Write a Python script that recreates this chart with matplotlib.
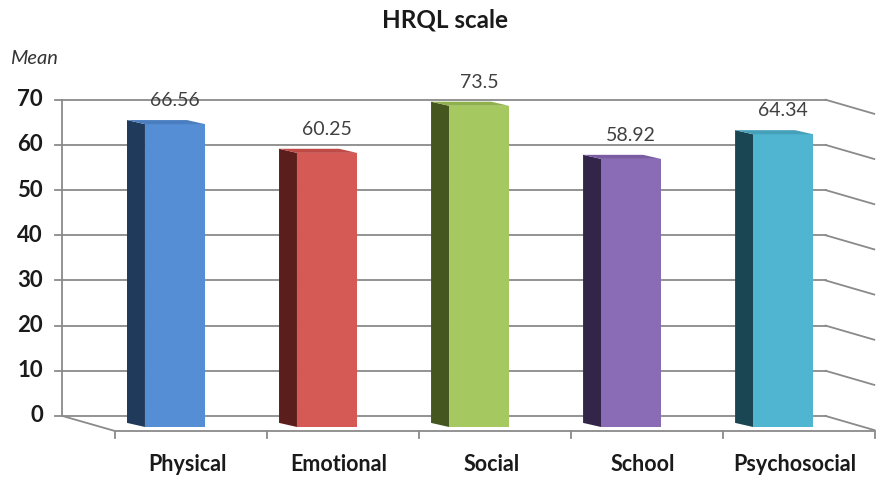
import matplotlib
matplotlib.use("Agg")
import matplotlib.pyplot as plt
from matplotlib.patches import Polygon

plt.rcParams['font.family'] = ['Lato', 'DejaVu Sans']

# data
categories = ["Physical", "Emotional", "Social", "School", "Psychosocial"]
heights = [66.56, 60.25, 70.6, 58.92, 64.34]      # drawn bar heights
value_labels = ["66.56", "60.25", "73.5", "58.92", "64.34"]
yticks = [0, 10, 20, 30, 40, 50, 60, 70]

front_colors = ['#558ED5', '#D55A55', '#A5C860', '#8A6BB5', '#4FB5D0']
side_colors = ['#1F3A5A', '#5C1E1C', '#45561E', '#33244A', '#1A4552']
top_colors = ['#4A7EC0', '#C04A46', '#8FB04C', '#7A5CA3', '#45A0BA']

# pseudo-3D geometry (data units)
bar_w = 0.395
depth_dx, depth_dy = -0.118, 0.9     # bar depth
wall_left, wall_right = -0.74, 4.28  # back wall extent
floor_left, floor_right = -0.395, 4.6
floor_y = -0.88
grid_c = '#8a8a8a'


def back(v):
    # value on the back wall
    return 2.42 + 0.993 * v


fig = plt.figure(figsize=(8.96, 4.87), dpi=100)
ax = fig.add_axes([0, 0, 1, 1])
ax.set_xlim(-1.151, 4.743)
ax.set_ylim(-13.19, 93.85)
ax.axis('off')

# back wall gridlines + side wall lines + y axis ticks
for v in yticks:
    yb = back(v)
    ax.plot([wall_left, wall_right], [yb, yb], color=grid_c, lw=1.3, zorder=1)
    ax.plot([wall_right, floor_right], [yb, yb - 3.1], color=grid_c, lw=1.3, zorder=1)
    ax.plot([wall_left - 0.05, wall_left], [yb, yb], color=grid_c, lw=1.3, zorder=1)
    ax.text(-0.868, yb, str(v), ha='right', va='center', fontsize=16,
            fontweight='bold', color='#1a1a1a')
ax.plot([wall_left, wall_left], [back(0), back(70)], color=grid_c, lw=1.3, zorder=1)

# floor
ax.plot([wall_left, floor_left], [back(0), floor_y], color=grid_c, lw=1.3, zorder=1)
ax.plot([floor_left, floor_right], [floor_y, floor_y], color=grid_c, lw=1.3, zorder=1)
for k in range(len(categories) + 1):
    xt = floor_left + k
    ax.plot([xt, xt], [floor_y, floor_y - 1.5], color=grid_c, lw=1.3, zorder=1)

# bars
x = list(range(len(categories)))
ax.bar(x, heights, width=bar_w, color=front_colors, zorder=3)
for i, h in enumerate(heights):
    L, R = i - bar_w / 2, i + bar_w / 2
    side = Polygon([(L + depth_dx, depth_dy), (L, 0), (L, h), (L + depth_dx, h + depth_dy)],
                   closed=True, facecolor=side_colors[i], edgecolor='none', zorder=2)
    top = Polygon([(L, h), (R, h), (R + depth_dx, h + depth_dy), (L + depth_dx, h + depth_dy)],
                  closed=True, facecolor=top_colors[i], edgecolor='none', zorder=3)
    ax.add_patch(side)
    ax.add_patch(top)
    ax.text(i, h + 5.2, value_labels[i], ha='center', va='center', fontsize=14,
            color='#404040', zorder=4)
    ax.text(i + 0.08, -8.35, categories[i], ha='center', va='center', fontsize=15.5,
            fontweight='bold', color='#1a1a1a')

ax.text(-1.086, 81.1, "Mean", ha='left', va='center', fontsize=14.5,
        style='italic', color='#333333')
ax.text(1.776, 89.4, "HRQL scale", ha='center', va='center', fontsize=17.5,
        fontweight='bold', color='#1a1a1a')

fig.savefig("out.png", dpi=100)
